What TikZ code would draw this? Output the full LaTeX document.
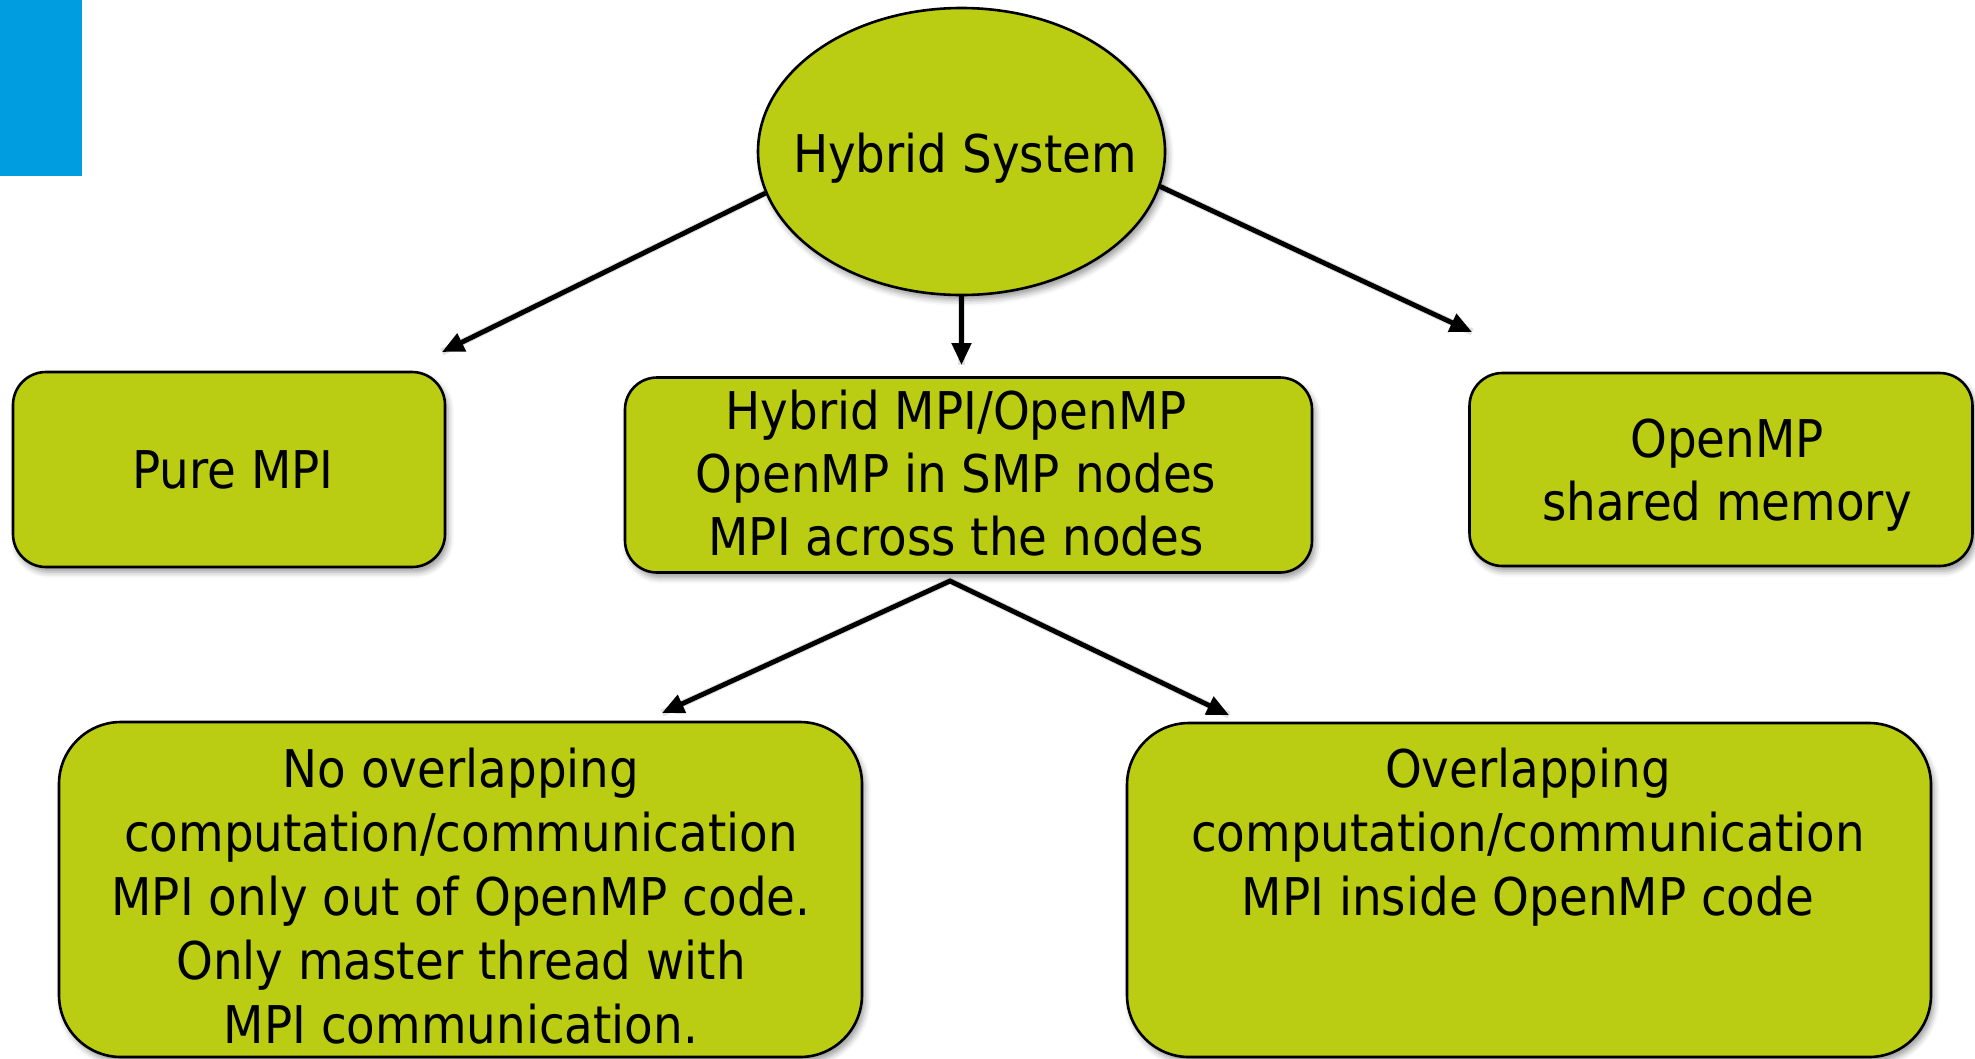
\documentclass[tikz,border=0pt]{standalone}
\usepackage{fontspec}
\setmainfont{DejaVu Sans}[FakeStretch=0.9]
\usetikzlibrary{arrows.meta,shadows.blur,shapes.geometric}
\definecolor{limefill}{RGB}{186,205,18}
\definecolor{topblue}{RGB}{0,158,224}
\begin{document}
\begin{tikzpicture}[x=1pt,y=-1pt,
  soft/.style={blur shadow={shadow xshift=3pt, shadow yshift=-5pt, shadow blur radius=6pt, shadow opacity=40}},
  greenbox/.style={draw=black, line width=2.6pt, fill=limefill, soft, inner sep=0pt},
  txt/.style={inner sep=0pt, anchor=base, font=\fontsize{52}{60}\selectfont},
  conn/.style={draw=black, line width=4.9pt, -{Triangle[length=22pt,width=19pt]}},
  connshadow/.style={draw=black, opacity=0.12, line width=7pt}
]
\useasboundingbox (0,0) rectangle (1975,1058);
\fill[topblue] (0,0) rectangle (82,176);

% shapes
\node[greenbox, ellipse, minimum width=407pt, minimum height=287pt] (hs) at (961.5,151.5) {};
\node[greenbox, rounded corners=33pt, minimum width=432pt, minimum height=195pt] (pure) at (229,469.5) {};
\node[greenbox, rounded corners=32pt, minimum width=687pt, minimum height=195pt] (hyb) at (968.5,475) {};
\node[greenbox, rounded corners=33pt, minimum width=503pt, minimum height=193pt] (omp) at (1721,469.5) {};
\node[greenbox, rounded corners=62pt, minimum width=803pt, minimum height=335pt] (nolap) at (460.5,889.5) {};
\node[greenbox, rounded corners=62pt, minimum width=804pt, minimum height=334pt] (olap) at (1529,890) {};

% texts
\node[txt] (hst) at (965,172) {Hybrid System};
\node[txt] (puret) at (233,488) {Pure MPI};
\node[txt] (hybt) at (956,429) {\fontsize{52}{63}\selectfont\begin{tabular}[t]{@{}c@{}}Hybrid MPI/OpenMP\\OpenMP in SMP nodes\\MPI across the nodes\end{tabular}};
\node[txt] (ompt) at (1727,457) {\fontsize{52}{63}\selectfont\begin{tabular}[t]{@{}c@{}}OpenMP\\shared memory\end{tabular}};
\node[txt] (nolapt) at (461,787) {\fontsize{52}{64}\selectfont\begin{tabular}[t]{@{}c@{}}No overlapping\\computation/communication\\MPI only out of OpenMP code.\\Only master thread with\\MPI communication.\end{tabular}};
\node[txt] (olapt) at (1528,787) {\fontsize{52}{64}\selectfont\begin{tabular}[t]{@{}c@{}}Overlapping\\computation/communication\\MPI inside OpenMP code\end{tabular}};

% connector end points
\coordinate (tipA) at (442,352);
\coordinate (tipB) at (961.5,365);
\coordinate (tipC) at (1472,332);
\coordinate (split) at (950,581);
\coordinate (tipD) at (662,713);
\coordinate (tipE) at (1229,715);

% soft shadows of connectors
\begin{scope}[shift={(3,5)}]
\draw[connshadow] (hs.192.8) -- (tipA);
\draw[connshadow] (hs.south) -- (tipB);
\draw[connshadow] (hs.350.6) -- (tipC);
\draw[connshadow] (tipD) -- (split) -- (tipE);
\end{scope}

% connectors
\draw[conn] (hs.192.8) -- (tipA);
\draw[conn] (hs.south) -- (tipB);
\draw[conn] (hs.350.6) -- (tipC);
\draw[conn, line join=miter, {Triangle[length=22pt,width=19pt]}-{Triangle[length=22pt,width=19pt]}] (tipD) -- (split) -- (tipE);
\end{tikzpicture}
\end{document}
